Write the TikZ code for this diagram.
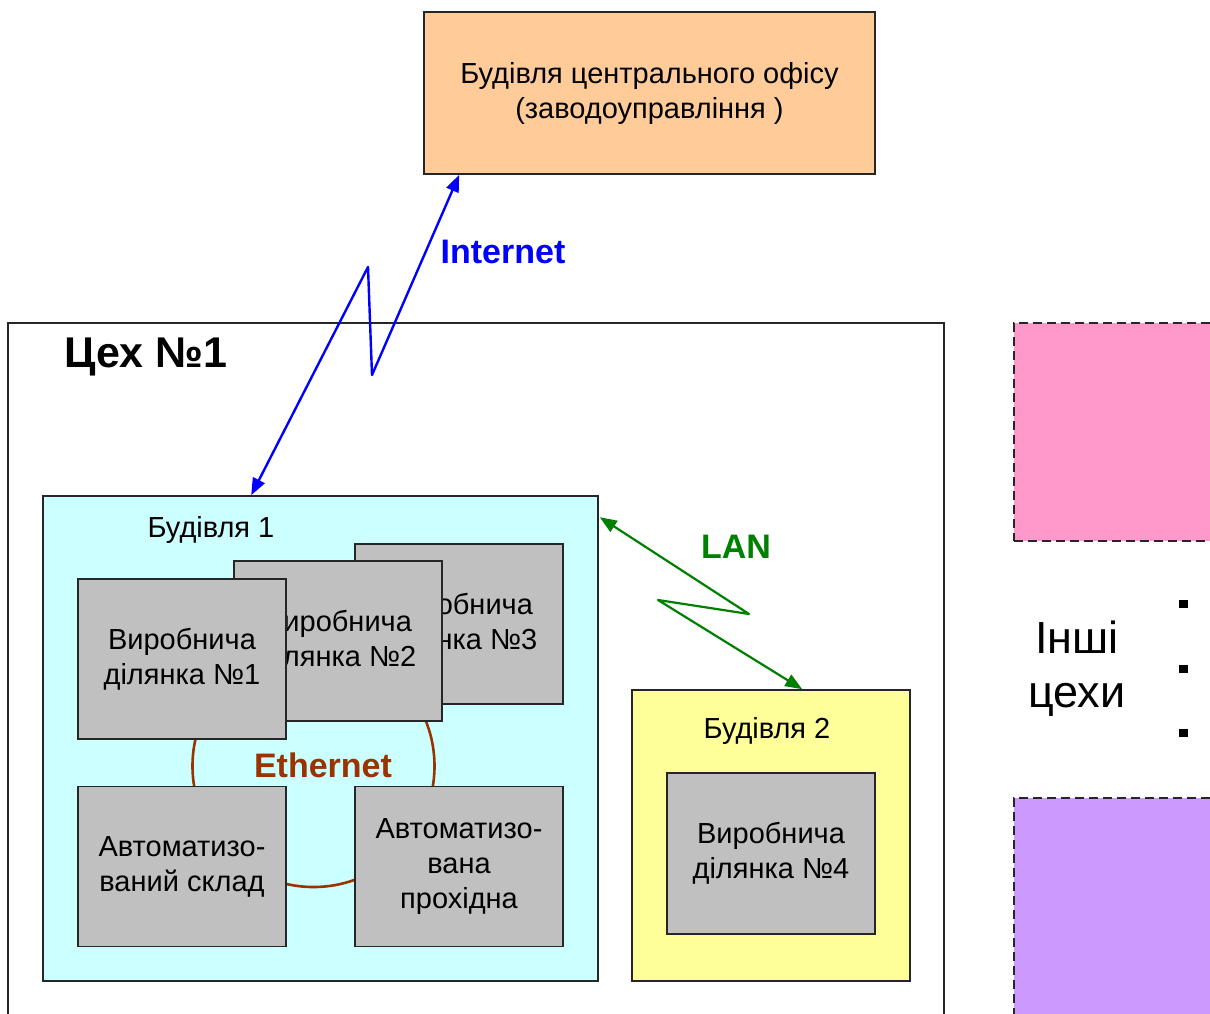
\documentclass[tikz,border=0pt]{standalone}
\usepackage{fontspec}
\setmainfont{Liberation Sans}
\usetikzlibrary{arrows.meta,calc}
\definecolor{officeC}{RGB}{255,204,153}
\definecolor{bldA}{RGB}{204,255,255}
\definecolor{bldB}{RGB}{255,255,153}
\definecolor{cellgray}{RGB}{192,192,192}
\definecolor{ethbrown}{RGB}{153,51,0}
\definecolor{langreen}{RGB}{0,128,0}
\definecolor{inetblue}{RGB}{0,0,255}
\definecolor{pinkshop}{RGB}{255,153,204}
\definecolor{violetshop}{RGB}{204,153,255}
\begin{document}
\begin{tikzpicture}[x=1pt,y=-1pt,
  box/.style={draw=black!85, line width=1.6pt, inner sep=0pt, align=center,
    font=\fontsize{29}{35}\selectfont},
  cell/.style={box, fill=cellgray, minimum width=208pt, minimum height=160pt},
  shop/.style={draw=black!85, line width=1.4pt, dash pattern=on 9pt off 5pt, inner sep=0pt},
  plain/.style={inner sep=0pt, align=center, font=\fontsize{29}{35}\selectfont},
  netlabel/.style={inner sep=0pt, font=\fontsize{34}{38}\selectfont\bfseries},
  netlink/.style={line width=2.4pt, line join=round, {Triangle[length=17pt,width=13pt]}-{Triangle[length=17pt,width=13pt]}}
]
\useasboundingbox (0,0) rectangle (1210,1013);

% central office
\node[box, fill=officeC, minimum width=451pt, minimum height=162pt] (office) at (649.5,93)
  {Будівля центрального офісу\\(заводоуправління )};

% workshop 1
\node[box, minimum width=936pt, minimum height=707pt] (cex) at (476,676.5) {};
\node[inner sep=0pt, font=\fontsize{43}{48}\selectfont\bfseries] (cexlabel) at (146,357) {Цех №1};

% other workshops
\node[shop, fill=pinkshop, minimum width=206pt, minimum height=218pt] (shopA) at (1117,432) {};
\node[shop, fill=violetshop, minimum width=206pt, minimum height=232pt] (shopB) at (1117,914) {};
\node[inner sep=0pt, align=center, font=\fontsize{45}{54}\selectfont] (others) at (1077,669) {Інші\\цехи};
\fill (1179,600) rectangle (1188,608);
\fill (1179,665) rectangle (1188,673);
\fill (1179,729) rectangle (1188,737);

% building 1
\node[box, fill=bldA, minimum width=555pt, minimum height=485pt] (b1) at (320.5,738.5) {};
\node[plain] (b1label) at (211,530) {Будівля 1};
\draw[ethbrown, line width=2.6pt] (313.5,766) circle[radius=121pt];
\node[cell] (c3) at (459,624) {Виробнича\\ділянка №3};
\node[cell] (c2) at (338,641) {Виробнича\\ділянка №2};
\node[cell] (c1) at (182,659) {Виробнича\\ділянка №1};
\node[cell] (sklad) at (182,866.5) {Автоматизо-\\ваний склад};
\node[cell] (prox) at (459,866.5) {Автоматизо-\\вана\\прохідна};
\node[netlabel, text=ethbrown] (eth) at (323,765) {Ethernet};

% building 2
\node[box, fill=bldB, minimum width=278pt, minimum height=291pt] (b2) at (771,835.5) {};
\node[plain] (b2label) at (767,731) {Будівля 2};
\node[cell, minimum height=161pt] (c4) at (771,853.5) {Виробнича\\ділянка №4};

% links
\draw[netlink, inetblue] ($(b1.north west)+(209,0)$) -- (368,267) -- (372,375) -- ($(office.south west)+(36,0)$);
\node[netlabel, text=inetblue] (inet) at (503,252) {Internet};
\draw[netlink, langreen, line width=2.2pt] ($(b1.north east)+(1,22)$) -- (749,614) -- (658,600) -- ($(b2.north west)+(171,0)$);
\node[netlabel, text=langreen] (lan) at (736,547) {LAN};
\end{tikzpicture}
\end{document}
